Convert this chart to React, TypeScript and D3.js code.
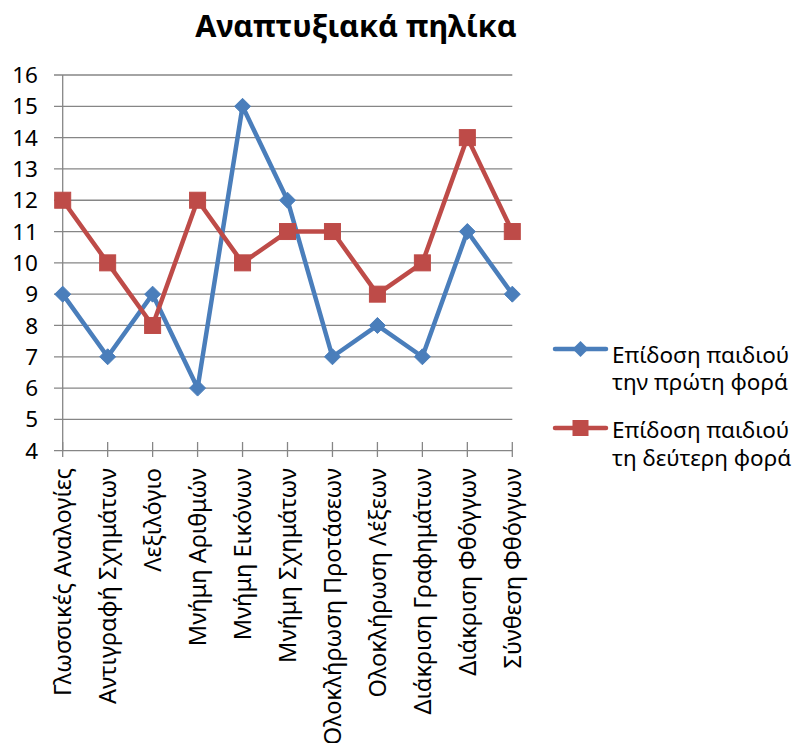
import React from "react";
import * as d3 from "d3";

const categories = [
  "Γλωσσικές Αναλογίες",
  "Αντιγραφή Σχημάτων",
  "Λεξιλόγιο",
  "Μνήμη Αριθμών",
  "Μνήμη Εικόνων",
  "Μνήμη Σχημάτων",
  "Ολοκλήρωση Προτάσεων",
  "Ολοκλήρωση Λέξεων",
  "Διάκριση Γραφημάτων",
  "Διάκριση Φθόγγων",
  "Σύνθεση Φθόγγων",
];
const firstTime = [9, 7, 9, 6, 15, 12, 7, 8, 7, 11, 9];
const secondTime = [12, 10, 8, 12, 10, 11, 11, 9, 10, 14, 11];
const yTicks = [4, 5, 6, 7, 8, 9, 10, 11, 12, 13, 14, 15, 16];
const seriesNames = [
  ["Επίδοση παιδιού", "την πρώτη φορά"],
  ["Επίδοση παιδιού", "τη δεύτερη φορά"],
];
const title = "Αναπτυξιακά πηλίκα";

const BLUE = "#4A7EBB";
const RED = "#BE4B48";
const GRID = "#868686";
const FONT = "'Noto Sans', sans-serif";

export default function App() {
  const W = 802, H = 743;
  const x = d3.scalePoint<string>().domain(categories).range([62.7, 512.3]);
  const y = d3.scaleLinear().domain([4, 16]).range([450.7, 75]);
  const line = d3
    .line<number>()
    .x((_, i) => x(categories[i]) as number)
    .y((d) => y(d));

  const diamond = (cx: number, cy: number, r: number) =>
    `M${cx},${cy - r}L${cx + r},${cy}L${cx},${cy + r}L${cx - r},${cy}Z`;

  return (
    <svg width={W} height={H} style={{ position: "absolute", left: 0, top: 0 }} fontFamily={FONT}>
      <rect width={W} height={H} fill="#fff" />
      <text x={356} y={37} textAnchor="middle" fontSize={30.5} fontWeight="bold" fill="#000">
        {title}
      </text>
      {yTicks.map((t) => (
        <g key={t}>
          <line x1={54} x2={512.3} y1={y(t)} y2={y(t)} stroke={GRID} strokeWidth={1.3} />
          <text x={38} y={y(t)} dy="0.36em" textAnchor="end" fontSize={22.5} fill="#000">
            {t}
          </text>
        </g>
      ))}
      <line x1={62.7} x2={62.7} y1={y(16)} y2={y(4)} stroke={GRID} strokeWidth={1.3} />
      {categories.map((c) => (
        <g key={c}>
          <line x1={x(c)} x2={x(c)} y1={442} y2={457} stroke={GRID} strokeWidth={1.3} />
          <text
            transform={`translate(${x(c)},468) rotate(-90)`}
            textAnchor="end"
            dy="0.36em"
            fontSize={23.5}
            fill="#000"
          >
            {c}
          </text>
        </g>
      ))}
      <path d={line(firstTime) || ""} fill="none" stroke={BLUE} strokeWidth={4.5} strokeLinejoin="round" />
      <path d={line(secondTime) || ""} fill="none" stroke={RED} strokeWidth={4.5} strokeLinejoin="round" />
      {firstTime.map((v, i) => (
        <path key={"b" + i} d={diamond(x(categories[i]) as number, y(v), 8)} fill={BLUE} stroke={BLUE} strokeWidth={1} />
      ))}
      {secondTime.map((v, i) => (
        <rect
          key={"r" + i}
          x={(x(categories[i]) as number) - 8}
          y={y(v) - 8}
          width={16}
          height={16}
          fill={RED}
          stroke={RED}
          strokeWidth={1}
        />
      ))}
      <g>
        <line x1={555} x2={606} y1={349} y2={349} stroke={BLUE} strokeWidth={4.5} strokeLinecap="round" />
        <path d={diamond(580.5, 349, 8)} fill={BLUE} />
        <text x={612} y={363} fontSize={22.5} fill="#000">
          <tspan x={612}>{seriesNames[0][0]}</tspan>
          <tspan x={612} dy={26.5}>{seriesNames[0][1]}</tspan>
        </text>
        <line x1={555} x2={606} y1={428} y2={428} stroke={RED} strokeWidth={4.5} strokeLinecap="round" />
        <rect x={572.5} y={420} width={16} height={16} fill={RED} />
        <text x={612} y={438} fontSize={22.5} fill="#000">
          <tspan x={612}>{seriesNames[1][0]}</tspan>
          <tspan x={612} dy={27.5}>{seriesNames[1][1]}</tspan>
        </text>
      </g>
    </svg>
  );
}
